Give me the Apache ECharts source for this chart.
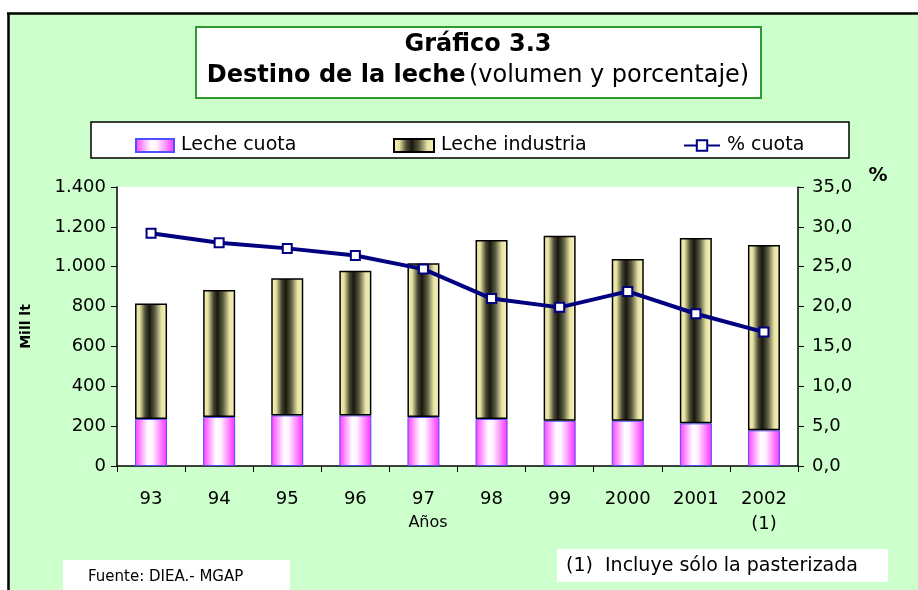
<!DOCTYPE html>
<html>
<head>
<meta charset="utf-8">
<script src="https://cdn.jsdelivr.net/npm/echarts@6/dist/echarts.min.js"></script>
<style>
  html, body { margin: 0; padding: 0; background: #fff; }
  #chart { width: 918px; height: 590px; }
</style>
</head>
<body>
<div id="chart"></div>
<script>
// values
const years = ['93', '94', '95', '96', '97', '98', '99', '2000', '2001', '2002\n(1)'];
const lecheCuota = [236, 246, 254, 254, 246, 236, 227, 227, 214, 179];
const lecheIndustria = [580, 637, 688, 726, 771, 898, 929, 812, 930, 930];
const pctCuota = [29.2, 28.0, 27.3, 26.4, 24.7, 21.0, 19.9, 21.9, 19.1, 16.8];

const FONT = 'DejaVu Sans';

const pinkFill = new echarts.graphic.LinearGradient(0, 0, 1, 0, [
  { offset: 0, color: '#ff3cff' },
  { offset: 0.4, color: '#ffffff' },
  { offset: 0.55, color: '#fff2ff' },
  { offset: 1, color: '#ff2cff' }
]);
const oliveFill = new echarts.graphic.LinearGradient(0, 0, 1, 0, [
  { offset: 0, color: '#f8f4b4' },
  { offset: 0.15, color: '#e4e0a0' },
  { offset: 0.32, color: '#4a4a34' },
  { offset: 0.45, color: '#17170f' },
  { offset: 0.62, color: '#5c5c42' },
  { offset: 0.82, color: '#e6e2a6' },
  { offset: 1, color: '#faf6bc' }
]);

const chart = echarts.init(document.getElementById('chart'));

const legendText = { fontFamily: FONT, fontSize: 19, color: '#000', padding: [0, 0, 0, 2] };

chart.setOption({
  backgroundColor: '#ccffcc',
  animation: false,
  textStyle: { fontFamily: FONT },
  grid: {
    left: 117, right: 120, top: 187, bottom: 124,
    show: true, backgroundColor: '#fff', borderWidth: 0
  },
  legend: [
    { data: ['Leche cuota'], icon: 'rect', left: 130, top: 131, itemWidth: 38, itemHeight: 13, textStyle: legendText },
    { data: ['Leche industria'], icon: 'rect', left: 388, top: 131, itemWidth: 40, itemHeight: 13, textStyle: legendText },
    { data: ['% cuota'], left: 678, top: 131, itemWidth: 36, itemHeight: 13, textStyle: legendText }
  ],
  xAxis: {
    type: 'category',
    data: years,
    axisLine: { lineStyle: { color: '#000', width: 1.5 } },
    axisTick: { show: true, length: 6, lineStyle: { color: '#000' } },
    axisLabel: { fontFamily: FONT, fontSize: 18, color: '#000', margin: 21, lineHeight: 25 }
  },
  yAxis: [
    {
      type: 'value', min: 0, max: 1400, interval: 200,
      name: 'Mill lt',
      nameLocation: 'middle',
      nameRotate: 90,
      nameGap: 84,
      nameTextStyle: { fontFamily: FONT, fontSize: 14, fontWeight: 'bold', color: '#000' },
      axisLine: { show: true, lineStyle: { color: '#000', width: 1.5 } },
      axisTick: { show: true, length: 6, lineStyle: { color: '#000' } },
      splitLine: { show: false },
      axisLabel: {
        fontFamily: FONT, fontSize: 18, color: '#000', margin: 11,
        formatter: v => String(v).replace(/\B(?=(\d{3})+(?!\d))/g, '.')
      }
    },
    {
      type: 'value', min: 0, max: 35, interval: 5,
      position: 'right',
      axisLine: { show: true, lineStyle: { color: '#000', width: 1.5 } },
      axisTick: { show: true, length: 6, lineStyle: { color: '#000' } },
      splitLine: { show: false },
      axisLabel: {
        fontFamily: FONT, fontSize: 18, color: '#000', margin: 14,
        formatter: v => v.toFixed(1).replace('.', ',')
      }
    }
  ],
  series: [
    {
      name: 'Leche cuota',
      type: 'bar',
      stack: 'leche',
      barWidth: 32,
      data: lecheCuota,
      itemStyle: { color: pinkFill, borderColor: '#4f4fff', borderWidth: 1 }
    },
    {
      name: 'Leche industria',
      type: 'bar',
      stack: 'leche',
      barWidth: 32,
      data: lecheIndustria,
      itemStyle: { color: oliveFill, borderColor: '#000', borderWidth: 1.5 }
    },
    {
      name: '% cuota',
      type: 'line',
      yAxisIndex: 1,
      data: pctCuota,
      z: 5,
      symbol: 'rect',
      symbolSize: 9,
      lineStyle: { color: '#000080', width: 4 },
      itemStyle: { color: '#ffffff', borderColor: '#000080', borderWidth: 2 }
    }
  ],
  graphic: [
    // white margins and black frame of the chart sheet
    { type: 'rect', shape: { x: 0, y: 0, width: 918, height: 12 }, style: { fill: '#fff' }, silent: true },
    { type: 'rect', shape: { x: 0, y: 0, width: 7, height: 590 }, style: { fill: '#fff' }, silent: true },
    { type: 'line', shape: { x1: 7, y1: 13.5, x2: 918, y2: 13.5 }, style: { stroke: '#000', lineWidth: 2.5 }, silent: true },
    { type: 'line', shape: { x1: 8.5, y1: 13, x2: 8.5, y2: 590 }, style: { stroke: '#000', lineWidth: 2.5 }, silent: true },
    // title box
    { type: 'rect', shape: { x: 196, y: 27, width: 565, height: 71 }, style: { fill: '#fff', stroke: '#2f9a2f', lineWidth: 2 }, silent: true },
    {
      type: 'text', x: 478, y: 45,
      style: { text: 'Gráfico 3.3', font: 'bold 24px "DejaVu Sans"', fill: '#000', align: 'center', verticalAlign: 'middle' }
    },
    {
      type: 'text', x: 478, y: 76,
      style: {
        text: '{b|Destino de la leche} {n|(volumen y porcentaje)}',
        align: 'center', verticalAlign: 'middle',
        rich: {
          b: { fontFamily: FONT, fontSize: 24, fontWeight: 'bold', fill: '#000' },
          n: { fontFamily: FONT, fontSize: 24, fill: '#000' }
        }
      }
    },
    // legend frame
    { type: 'rect', z: -1, shape: { x: 91, y: 122, width: 758, height: 36 }, style: { fill: '#fff', stroke: '#000', lineWidth: 1.5 }, silent: true },
    // axis titles
    { type: 'text', x: 428, y: 523, style: { text: 'Años', font: '16px "DejaVu Sans"', fill: '#000', align: 'center', verticalAlign: 'middle' } },
    { type: 'text', x: 878, y: 176, style: { text: '%', font: 'bold 19px "DejaVu Sans"', fill: '#000', align: 'center', verticalAlign: 'middle' } },
    // footnotes
    { type: 'rect', shape: { x: 557, y: 549, width: 331, height: 33 }, style: { fill: '#fff' }, silent: true },
    { type: 'text', x: 566, y: 566, style: { text: '(1)  Incluye sólo la pasterizada', font: '19px "DejaVu Sans"', fill: '#000', verticalAlign: 'middle' } },
    { type: 'rect', shape: { x: 63, y: 560, width: 227, height: 32 }, style: { fill: '#fff' }, silent: true },
    { type: 'text', x: 88, y: 577, style: { text: 'Fuente: DIEA.- MGAP', font: '15px "DejaVu Sans"', fill: '#000', verticalAlign: 'middle' } }
  ]
});

window.addEventListener('resize', () => chart.resize());
</script>
</body>
</html>
